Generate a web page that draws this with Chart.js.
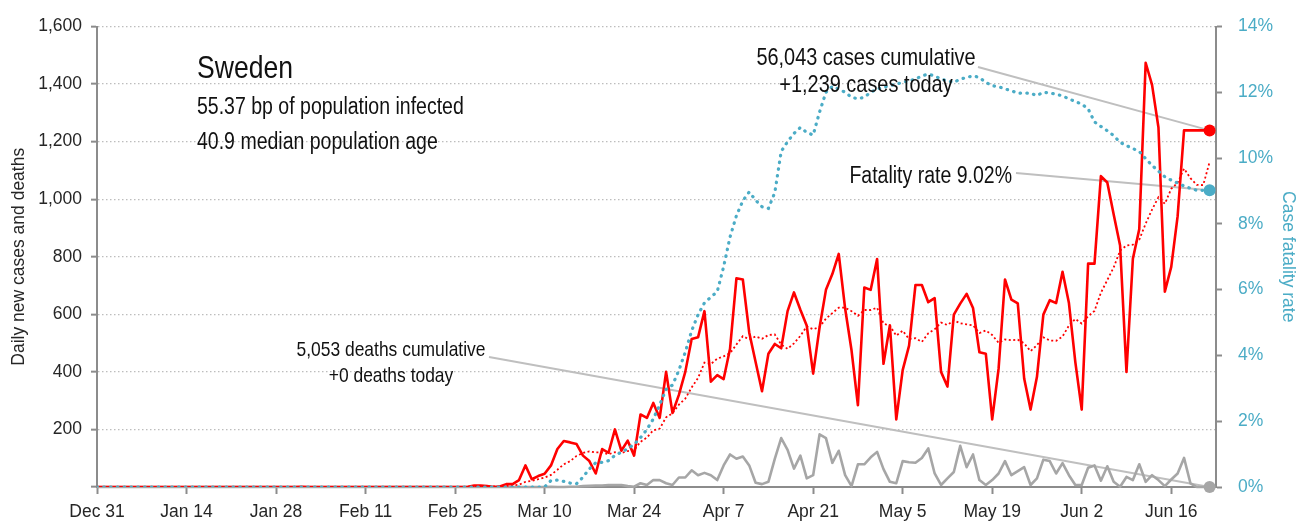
<!DOCTYPE html>
<html>
<head>
<meta charset="utf-8">
<script src="https://cdn.jsdelivr.net/npm/chart.js@4.4.1/dist/chart.umd.min.js"></script>
<style>
  html, body { margin: 0; padding: 0; background: #fff; }
  #grafico { position: relative; width: 1312px; height: 527px; }
</style>
</head>
<body>
<div id="grafico"><canvas id="cfr_chart"></canvas></div>
<script>
// dias desde Dec 31 (0) hasta Jun 22 (174)
var diasTicks = [0, 14, 28, 42, 56, 70, 84, 98, 112, 126, 140, 154, 168];
var etiquetasX = ['Dec 31', 'Jan 14', 'Jan 28', 'Feb 11', 'Feb 25', 'Mar 10', 'Mar 24',
                  'Apr 7', 'Apr 21', 'May 5', 'May 19', 'Jun 2', 'Jun 16'];
var ticksIzq = [0, 200, 400, 600, 800, 1000, 1200, 1400, 1600];
var ticksDer = [0, 2, 4, 6, 8, 10, 12, 14];

var casosDiarios = [
  0,0,0,0,0,0,0,0,0,0,0,0,0,0,            // Dec 31
  0,0,0,0,0,0,0,0,0,0,0,0,0,0,            // Jan 14
  0,0,0,0,1,0,0,0,0,0,0,0,0,0,            // Jan 28
  0,0,0,0,0,0,0,0,0,0,0,0,0,0,            // Feb 11
  0,0,1,5,5,3,0,2,10,10,24,75,27,38,      // Feb 25
  46,75,132,160,155,149,109,90,47,132,119,200,126,161,     // Mar 10
  109,252,240,292,240,400,257,320,400,514,520,611,366,389, // Mar 24
  375,480,725,721,537,434,333,463,497,482,611,676,616,560, // Apr 7
  394,554,685,740,810,620,475,284,693,685,792,428,562,235, // Apr 21
  406,491,702,702,642,656,400,349,599,637,671,622,468,463, // May 5
  235,411,721,651,638,377,269,383,599,649,639,748,639,434, // May 19
  269,776,776,1080,1058,947,839,400,793,896,1474,1397,1249,679, // Jun 2
  765,941,1239,1239,1239,1239,1239                          // Jun 16
];

var mediaMovil = [
  0,0,0,0,0,0,0,0,0,0,0,0,0,0,
  0,0,0,0,0,0,0,0,0,0,0,0,0,0,
  0,0,0,0,0,0,0,0,0,0,0,0,0,0,
  0,0,0,0,0,0,0,0,0,0,0,0,0,0,
  0,0,0,1,2,2,2,2,4,5,8,18,21,27,
  33,42,60,79,90,108,118,124,120,120,114,121,118,125,
  128,157,172,197,203,242,256,286,307,346,379,432,427,446,
  454,465,495,524,513,523,515,528,530,495,480,499,525,558,
  548,556,585,604,623,623,611,595,615,615,623,568,560,526,
  543,514,517,504,534,548,571,563,579,569,565,562,535,544,
  528,501,513,510,512,499,472,493,520,509,508,523,561,584,
  568,593,612,675,719,763,821,839,842,859,915,964,1007,984,
  1036,1057,1106,1073,1050,1049,1129
];

var muertesDiarias = [
  0,0,0,0,0,0,0,0,0,0,0,0,0,0,
  0,0,0,0,0,0,0,0,0,0,0,0,0,0,
  0,0,0,0,0,0,0,0,0,0,0,0,0,0,
  0,0,0,0,0,0,0,0,0,0,0,0,0,0,
  0,0,0,0,0,0,0,0,0,0,0,0,0,0,
  0,1,0,0,1,1,3,4,5,5,7,7,7,3,
  1,13,7,24,24,13,7,33,33,58,41,49,41,24,
  75,113,98,106,75,15,10,18,98,170,129,64,109,30,
  41,183,170,84,126,41,3,79,79,103,122,62,18,13,
  90,86,84,101,134,47,7,30,52,143,69,113,24,7,
  24,47,90,41,55,69,7,30,95,90,47,83,41,7,
  7,67,75,22,72,18,1,35,24,79,18,41,24,3,
  26,47,101,13,0,0,0
];

// tasa de letalidad (%)
var tasaLetalidad = [
  0,0,0,0,0,0,0,0,0,0,0,0,0,0,
  0,0,0,0,0,0,0,0,0,0,0,0,0,0,
  0,0,0,0,0,0,0,0,0,0,0,0,0,0,
  0,0,0,0,0,0,0,0,0,0,0,0,0,0,
  0,0,0,0,0,0,0,0,0,0,0,0,0,0,
  0,0.2,0.21,0.17,0.12,0.1,0.3,0.55,0.74,0.75,0.8,0.96,1.06,1.16,
  1.3,1.5,1.75,2.07,2.5,2.97,3.1,3.55,4.1,4.75,5.24,5.6,5.77,5.94,
  6.7,7.6,8.25,8.7,8.97,8.72,8.52,8.47,8.95,10.2,10.5,10.75,10.93,10.78,
  10.7,11.4,12.0,12.18,12.1,12.0,11.85,11.8,11.85,12.0,12.1,12.15,12.2,12.25,
  12.3,12.35,12.4,12.5,12.55,12.5,12.4,12.35,12.3,12.4,12.45,12.5,12.45,12.3,
  12.2,12.17,12.1,12.05,11.97,11.98,11.97,11.9,12.0,11.98,11.94,11.89,11.8,11.72,
  11.64,11.5,11.1,10.96,10.83,10.68,10.48,10.38,10.29,10.2,9.98,9.78,9.6,9.43,
  9.33,9.24,9.15,9.08,9.02,9.02,9.02
];

var pais = 'Sweden';
var infoLineas = ['55.37 bp of population infected', '40.9 median population age'];
var notaCasos = ['56,043 cases cumulative', '+1,239 cases today'];
var notaMuertes = ['5,053 deaths cumulative', '+0 deaths today'];
var notaTasa = 'Fatality rate 9.02%';

var FUENTE_EJES = "'Liberation Sans', Arial, sans-serif";
var FUENTE_NOTAS = "'Liberation Sans', Arial, sans-serif";
var ANGOSTO = 0.83; // compresion horizontal del texto de notas
var GRIS_EJE = '#8c8c8c';
var AZUL = '#4bacc6';

var dias = [];
for (var i = 0; i < casosDiarios.length; i++) { dias.push(i); }
var ultimo = casosDiarios.length - 1;

function radioFinal(ctx) {
  return ctx.dataIndex === ultimo ? 6 : 0;
}

function ultimoPunto(chart, idx) {
  var meta = chart.getDatasetMeta(idx);
  return meta.data[meta.data.length - 1];
}

// texto condensado (no hay fuente narrow instalada)
function textoAngosto(ctx, texto, x, y, size, align) {
  ctx.save();
  ctx.translate(x, y);
  ctx.scale(ANGOSTO, 1);
  ctx.font = size + 'px ' + FUENTE_NOTAS;
  ctx.textAlign = align;
  ctx.fillText(texto, 0, 0);
  ctx.restore();
}

// lineas guia y textos
var notas = {
  id: 'notas',
  beforeDatasetsDraw: function (chart) {
    var ctx = chart.ctx;
    var guias = [
      [978, 67, ultimoPunto(chart, 0)],
      [1016, 173, ultimoPunto(chart, 3)],
      [489, 357, ultimoPunto(chart, 2)]
    ];
    ctx.save();
    ctx.strokeStyle = '#bfbfbf';
    ctx.lineWidth = 2;
    guias.forEach(function (g) {
      ctx.beginPath();
      ctx.moveTo(g[0], g[1]);
      ctx.lineTo(g[2].x, g[2].y);
      ctx.stroke();
    });
    ctx.restore();
  },
  afterDatasetsDraw: function (chart) {
    var ctx = chart.ctx;
    ctx.save();
    ctx.fillStyle = '#111';
    ctx.textBaseline = 'alphabetic';

    textoAngosto(ctx, pais, 197, 78, 32, 'left');
    textoAngosto(ctx, infoLineas[0], 197, 114, 23.5, 'left');
    textoAngosto(ctx, infoLineas[1], 197, 149, 23.5, 'left');

    textoAngosto(ctx, notaCasos[0], 866, 65, 24, 'center');
    textoAngosto(ctx, notaCasos[1], 866, 92, 24, 'center');

    textoAngosto(ctx, notaMuertes[0], 391, 356, 21, 'center');
    textoAngosto(ctx, notaMuertes[1], 391, 382, 21, 'center');

    textoAngosto(ctx, notaTasa, 1012, 183, 23.5, 'right');
    ctx.restore();
  }
};

var ctx = document.getElementById('cfr_chart').getContext('2d');
var grafico = new Chart(ctx, {
  type: 'line',
  data: {
    labels: dias,
    datasets: [{
      label: 'Daily cases',
      data: casosDiarios,
      yAxisID: 'y',
      borderColor: '#ff0000',
      backgroundColor: '#ff0000',
      borderWidth: 2.6,
      borderJoinStyle: 'round',
      pointRadius: radioFinal,
      pointBorderWidth: 0,
      order: 2
    }, {
      label: '7-day average',
      data: mediaMovil,
      yAxisID: 'y',
      borderColor: '#ff0000',
      borderWidth: 1.8,
      borderDash: [2, 2.5],
      pointRadius: 0,
      order: 3
    }, {
      label: 'Daily deaths',
      data: muertesDiarias,
      yAxisID: 'y',
      borderColor: '#a6a6a6',
      backgroundColor: '#a6a6a6',
      borderWidth: 2.6,
      borderJoinStyle: 'round',
      pointRadius: radioFinal,
      pointBorderWidth: 0,
      clip: false,
      order: 4
    }, {
      label: 'Case fatality rate',
      data: tasaLetalidad,
      yAxisID: 'y2',
      borderColor: AZUL,
      backgroundColor: AZUL,
      borderWidth: 3.2,
      borderDash: [0.5, 6.3],
      borderCapStyle: 'round',
      pointRadius: radioFinal,
      pointBorderWidth: 0,
      order: 1
    }]
  },
  options: {
    responsive: true,
    maintainAspectRatio: false,
    animation: false,
    events: [],
    layout: { padding: { top: 19, left: 0, right: 0, bottom: 0 } },
    plugins: {
      legend: { display: false },
      tooltip: { enabled: false }
    },
    scales: {
      x: {
        type: 'linear',
        min: 0,
        max: 175,
        afterBuildTicks: function (axis) {
          axis.ticks = diasTicks.map(function (d) { return { value: d }; });
        },
        afterFit: function (axis) { axis.height = 40; },
        ticks: {
          autoSkip: false,
          maxRotation: 0,
          padding: 8,
          color: '#262626',
          font: { family: FUENTE_EJES, size: 17.5 },
          callback: function (v, i) { return etiquetasX[i]; }
        },
        grid: { drawOnChartArea: false, tickLength: 7, tickColor: GRIS_EJE, tickWidth: 2 },
        border: { color: GRIS_EJE, width: 2 }
      },
      y: {
        position: 'left',
        min: 0,
        max: 1600,
        afterBuildTicks: function (axis) {
          axis.ticks = ticksIzq.map(function (v) { return { value: v }; });
        },
        afterFit: function (axis) { axis.width = 97; },
        ticks: {
          padding: 9,
          color: '#262626',
          font: { family: FUENTE_EJES, size: 17.5 },
          callback: function (v) { return v === 0 ? '' : v.toLocaleString('en-US'); }
        },
        grid: { color: '#bdbdbd', lineWidth: 1.3, tickLength: 6, tickColor: GRIS_EJE, tickWidth: 2, tickBorderDash: [] },
        border: { color: GRIS_EJE, width: 2, dash: [1.5, 2.5] },
        title: {
          display: true,
          text: 'Daily new cases and deaths',
          color: '#262626',
          font: { family: FUENTE_EJES, size: 17.5 },
          padding: { top: 9, bottom: 0 }
        }
      },
      y2: {
        position: 'right',
        min: 0,
        max: 14,
        afterBuildTicks: function (axis) {
          axis.ticks = ticksDer.map(function (v) { return { value: v }; });
        },
        afterFit: function (axis) { axis.width = 96; },
        ticks: {
          padding: 16,
          color: AZUL,
          font: { family: FUENTE_EJES, size: 17.5 },
          callback: function (v) { return v + '%'; }
        },
        grid: { drawOnChartArea: false, tickLength: 6, tickColor: GRIS_EJE, tickWidth: 2 },
        border: { color: GRIS_EJE, width: 2 },
        title: {
          display: true,
          text: 'Case fatality rate',
          color: AZUL,
          font: { family: FUENTE_EJES, size: 17.5 },
          padding: { top: 14, bottom: 0 }
        }
      }
    }
  },
  plugins: [notas]
});
</script>
</body>
</html>
